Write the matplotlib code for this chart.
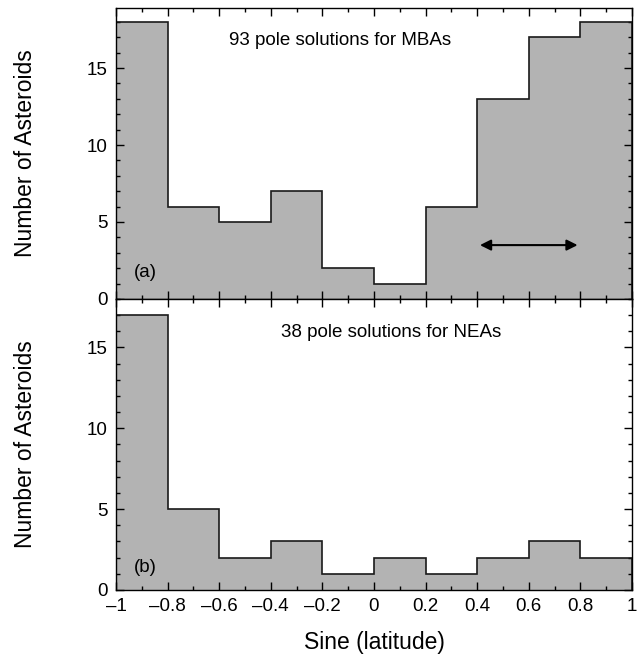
import matplotlib
import numpy as np

matplotlib.use("Agg")
import matplotlib.pyplot as plt
from matplotlib.ticker import FuncFormatter, MultipleLocator

# ── data ────────────────────────────────────────────────────────────────────
BIN_EDGES = [-1.0, -0.8, -0.6, -0.4, -0.2, 0.0, 0.2, 0.4, 0.6, 0.8, 1.0]
MBA_COUNTS = [18, 6, 5, 7, 2, 1, 6, 13, 17, 18]
NEA_COUNTS = [17, 5, 2, 3, 1, 2, 1, 2, 3, 2]
MBA_TITLE = "93 pole solutions for MBAs"
NEA_TITLE = "38 pole solutions for NEAs"

FILL = "#b3b3b3"
EDGE = "#1a1a1a"

plt.rcParams.update(
    {
        "font.family": ["Liberation Sans", "DejaVu Sans"],
        "font.size": 13,
        "axes.linewidth": 1.0,
    }
)


def _fmt(value, _):
    s = f"{value:.1f}".rstrip("0").rstrip(".")
    if s in ("-0", "−0"):
        s = "0"
    return s.replace("-", "\u2013")


def style_axis(ax, ymax):
    ax.set_xlim(-1, 1)
    ax.set_ylim(0, ymax)
    ax.xaxis.set_major_locator(MultipleLocator(0.2))
    ax.xaxis.set_minor_locator(MultipleLocator(0.1))
    ax.yaxis.set_major_locator(MultipleLocator(5))
    ax.yaxis.set_minor_locator(MultipleLocator(1))
    ax.tick_params(which="both", direction="in", top=True, right=True, width=1.0)
    ax.tick_params(which="major", length=6, labelsize=13.5, pad=6)
    ax.tick_params(which="minor", length=3)
    ax.set_ylabel("Number of Asteroids", fontsize=16.5, labelpad=36)


def draw_hist(ax, counts):
    ax.stairs(counts, BIN_EDGES, fill=True, facecolor=FILL, edgecolor="none", zorder=1)
    ax.stairs(counts, BIN_EDGES, fill=False, color=EDGE, linewidth=1.2, zorder=2)


fig = plt.figure(figsize=(6.39, 6.65), dpi=100)
ax_a = fig.add_axes([0.1815, 0.5504, 0.8075, 0.4376])
ax_b = fig.add_axes([0.1815, 0.1128, 0.8075, 0.4376])

draw_hist(ax_a, MBA_COUNTS)
style_axis(ax_a, 18.9)
ax_a.set_xticklabels([])
ax_a.text(-0.13, 16.8, MBA_TITLE, ha="center", va="center", fontsize=13.5)
ax_a.text(-0.93, 1.7, "(a)", ha="left", va="center", fontsize=13.5)
ax_a.annotate(
    "",
    xy=(0.8, 3.5),
    xytext=(0.4, 3.5),
    arrowprops=dict(arrowstyle="<|-|>", color="black", lw=1.5, mutation_scale=16),
)

draw_hist(ax_b, NEA_COUNTS)
style_axis(ax_b, 18)
ax_b.xaxis.set_major_formatter(FuncFormatter(_fmt))
ax_b.text(0.066, 15.95, NEA_TITLE, ha="center", va="center", fontsize=13.5)
ax_b.text(-0.93, 1.4, "(b)", ha="left", va="center", fontsize=13.5)
ax_b.set_xlabel("Sine (latitude)", fontsize=16.5, labelpad=11)

fig.savefig("out.png", dpi=100)
